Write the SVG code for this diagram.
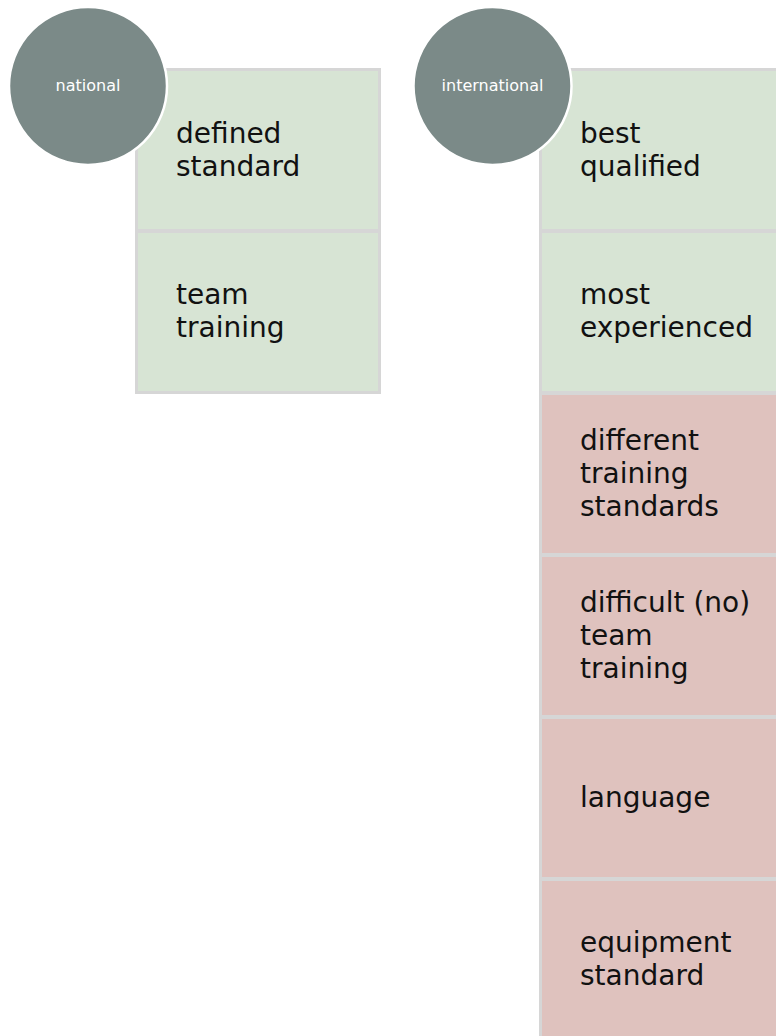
<svg xmlns="http://www.w3.org/2000/svg" width="776" height="1036" viewBox="0 0 776 1036">
  <style>
    .cell { stroke: #d6d6d6; stroke-width: 3; }
    .pro { fill: #d7e4d4; }
    .con { fill: #dfc2be; }
    .label { font-family: "DejaVu Sans", sans-serif; font-size: 28px; fill: #111111; }
    .badge { fill: #7b8a88; stroke: #ffffff; stroke-width: 2.5; }
    .badge-text { font-family: "DejaVu Sans", sans-serif; font-size: 16px; fill: #ffffff; text-anchor: middle; }
  </style>
  <rect width="776" height="1036" fill="#ffffff"/>

  <!-- national column -->
  <g id="national-defined-standard">
    <rect class="cell pro" x="136.5" y="69.5" width="243" height="161"/>
    <text class="label" x="176" y="143">defined</text>
    <text class="label" x="176" y="176">standard</text>
  </g>
  <g id="national-team-training">
    <rect class="cell pro" x="136.5" y="231.5" width="243" height="161"/>
    <text class="label" x="176" y="304">team</text>
    <text class="label" x="176" y="337">training</text>
  </g>

  <!-- international column -->
  <g id="intl-best-qualified">
    <rect class="cell pro" x="540.5" y="69.5" width="260" height="161"/>
    <text class="label" x="580" y="143">best</text>
    <text class="label" x="580" y="176">qualified</text>
  </g>
  <g id="intl-most-experienced">
    <rect class="cell pro" x="540.5" y="231.5" width="260" height="161"/>
    <text class="label" x="580" y="304">most</text>
    <text class="label" x="580" y="337">experienced</text>
  </g>
  <g id="intl-different-training-standards">
    <rect class="cell con" x="540.5" y="393.5" width="260" height="161"/>
    <text class="label" x="580" y="450">different</text>
    <text class="label" x="580" y="483">training</text>
    <text class="label" x="580" y="516">standards</text>
  </g>
  <g id="intl-difficult-team-training">
    <rect class="cell con" x="540.5" y="555.5" width="260" height="161"/>
    <text class="label" x="580" y="612">difficult (no)</text>
    <text class="label" x="580" y="645">team</text>
    <text class="label" x="580" y="678">training</text>
  </g>
  <g id="intl-language">
    <rect class="cell con" x="540.5" y="717.5" width="260" height="161"/>
    <text class="label" x="580" y="807">language</text>
  </g>
  <g id="intl-equipment-standard">
    <rect class="cell con" x="540.5" y="879.5" width="260" height="161"/>
    <text class="label" x="580" y="952">equipment</text>
    <text class="label" x="580" y="985">standard</text>
  </g>

  <!-- column badges -->
  <g id="badge-national">
    <circle class="badge" cx="88" cy="86" r="79"/>
    <text class="badge-text" x="88" y="91">national</text>
  </g>
  <g id="badge-international">
    <circle class="badge" cx="492.5" cy="86" r="79"/>
    <text class="badge-text" x="492.5" y="91">international</text>
  </g>

  <g id="connectors"/>
</svg>
